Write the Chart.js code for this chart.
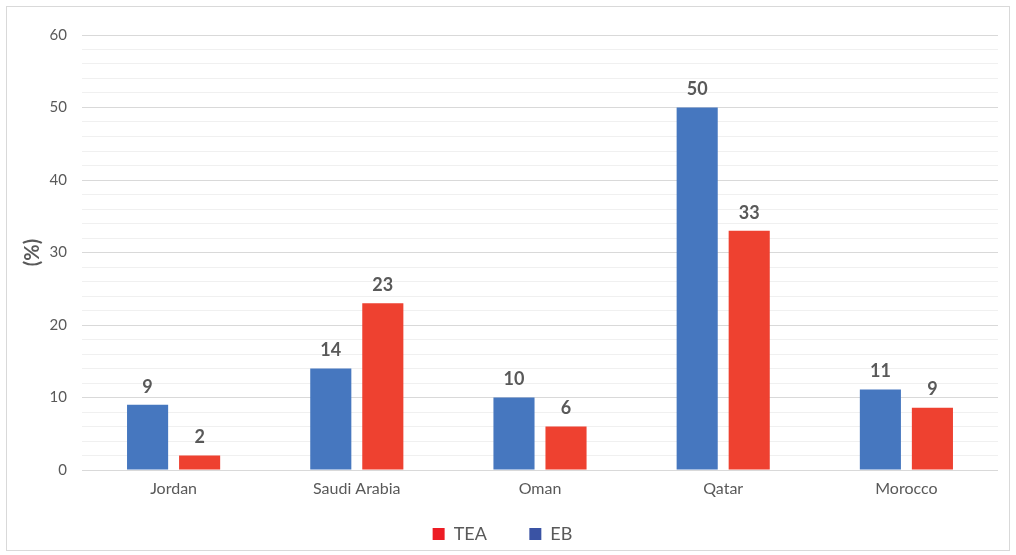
<!DOCTYPE html>
<html>
<head>
<meta charset="utf-8">
<script src="https://cdn.jsdelivr.net/npm/chart.js@4"></script>
<style>
  html, body { margin: 0; padding: 0; background: #fff; }
  #frame {
    position: absolute; left: 6px; top: 6px;
    width: 1002px; height: 543px;
    border: 1px solid #d9d9d9; background: #fff;
  }
</style>
</head>
<body>
<div id="frame"><canvas id="chart" width="1002" height="543"></canvas></div>
<script>
// chart data
const countries = ['Jordan', 'Saudi Arabia', 'Oman', 'Qatar', 'Morocco'];
const ebValues = [9, 14, 10, 50, 11.1];
const teaValues = [2, 23, 6, 33, 8.6];
const ebLabels = ['9', '14', '10', '50', '11'];
const teaLabels = ['2', '23', '6', '33', '9'];
const yTicks = [0, 10, 20, 30, 40, 50, 60];

const FONT = 'Lato, "Open Sans", sans-serif';
const GREY = '#595959';

// draws the value above each bar
const valueLabels = {
    id: 'valueLabels',
    afterDatasetsDraw(chart) {
        const ctx = chart.ctx;
        ctx.save();
        ctx.font = 'bold 18px ' + FONT;
        ctx.fillStyle = GREY;
        ctx.textAlign = 'center';
        ctx.textBaseline = 'bottom';
        chart.data.datasets.forEach((ds, i) => {
            chart.getDatasetMeta(i).data.forEach((bar, j) => {
                ctx.fillText(ds.valueText[j], bar.x, bar.y - 9);
            });
        });
        ctx.restore();
    }
};

new Chart(document.getElementById('chart').getContext('2d'), {
    type: 'bar',
    data: {
        labels: countries,
        datasets: [
            {
                label: 'EB',
                data: ebValues,
                valueText: ebLabels,
                backgroundColor: '#4677BF',
                legendColor: '#3A53A4',
                barPercentage: 0.79,
                categoryPercentage: 0.568
            },
            {
                label: 'TEA',
                data: teaValues,
                valueText: teaLabels,
                backgroundColor: '#EE4130',
                legendColor: '#ED1C24',
                barPercentage: 0.79,
                categoryPercentage: 0.568
            }
        ]
    },
    options: {
        responsive: false,
        animation: false,
        layout: { padding: { top: 28, right: 11, left: 0, bottom: -3 } },
        plugins: {
            tooltip: { enabled: false },
            legend: {
                position: 'bottom',
                reverse: true,
                labels: {
                    color: GREY,
                    font: { family: FONT, size: 18 },
                    boxWidth: 12,
                    boxHeight: 12,
                    padding: 20,
                    generateLabels(chart) {
                        // extra gap after TEA so the two entries sit apart
                        return chart.data.datasets.map((ds, i) => ({
                            text: ds.label === 'TEA' ? 'TEA\u2003\u2002' : ds.label,
                            fillStyle: ds.legendColor,
                            strokeStyle: ds.legendColor,
                            lineWidth: 0,
                            fontColor: GREY,
                            datasetIndex: i,
                            hidden: false
                        }));
                    }
                }
            }
        },
        scales: {
            x: {
                grid: { display: false },
                border: { display: false },
                ticks: {
                    color: GREY,
                    font: { family: FONT, size: 16 },
                    padding: 1
                },
                afterFit(scale) { scale.height = 35; }
            },
            y: {
                min: 0,
                max: 60,
                border: { display: false },
                grid: {
                    drawTicks: false,
                    color: ctx => (yTicks.includes(ctx.tick.value) ? '#d9d9d9' : '#f0f0f0')
                },
                ticks: {
                    stepSize: 2,
                    maxTicksLimit: 40,
                    autoSkip: false,
                    color: GREY,
                    font: { family: FONT, size: 15 },
                    padding: 15,
                    callback: v => (yTicks.includes(v) ? String(v) : '')
                },
                title: {
                    display: true,
                    text: '(%)',
                    color: GREY,
                    font: { family: FONT, size: 20, weight: 'bold' },
                    padding: { top: 14, bottom: 0 }
                },
                afterFit(scale) { scale.width = 75; }
            }
        }
    },
    plugins: [valueLabels]
});
</script>
</body>
</html>
